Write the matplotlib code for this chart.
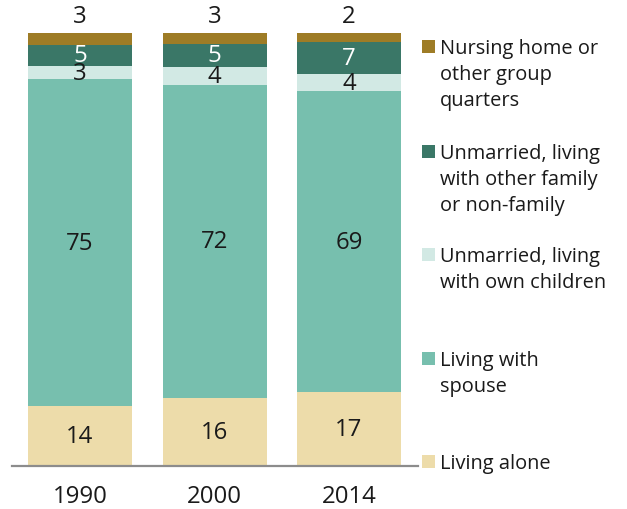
import matplotlib
matplotlib.use("Agg")
import matplotlib.pyplot as plt
from matplotlib.patches import Rectangle

plt.rcParams['font.family'] = ['Open Sans', 'DejaVu Sans']

years = ["1990", "2000", "2014"]
living_alone = [13.9, 15.6, 17.0]
with_spouse = [75.3, 72.4, 69.4]
own_children = [3.1, 4.0, 4.1]
other_family = [4.9, 5.4, 7.4]
nursing_home = [2.9, 2.9, 2.1]

series_names = ["Living alone", "Living with\nspouse",
                "Unmarried, living\nwith own children",
                "Unmarried, living\nwith other family\nor non-family",
                "Nursing home or\nother group\nquarters"]
series_vals = [living_alone, with_spouse, own_children, other_family, nursing_home]
colors = ["#EDDCAA", "#77BFAE", "#D2E9E4", "#3A7767", "#9E7C26"]
label_colors = ["#1a1a1a", "#1a1a1a", "#1a1a1a", "white", "#1a1a1a"]

W, H = 627, 510
fig = plt.figure(figsize=(W / 100, H / 100), dpi=100)
ax = fig.add_axes([12 / W, 43 / H, 406 / W, 433.5 / H])

x = list(range(len(years)))
bottoms = [0.0] * len(years)
num_fs = 17.3
for k, (vals, c) in enumerate(zip(series_vals, colors)):
    ax.bar(x, vals, bottom=bottoms, width=0.773, color=c, linewidth=0)
    for i, v in enumerate(vals):
        if k == len(series_vals) - 1:
            ax.annotate(f"{round(v)}", xy=(x[i], H - 17), xycoords=("data", "figure pixels"),
                        ha="center", va="center", fontsize=num_fs, color=label_colors[k])
        else:
            ax.text(x[i], bottoms[i] + v / 2, f"{round(v)}", ha="center", va="center",
                    fontsize=num_fs, color=label_colors[k])
    bottoms = [b + v for b, v in zip(bottoms, vals)]

ax.set_xlim(-0.506, 2.513)
ax.set_ylim(0, 100)
for s in ["top", "right", "left"]:
    ax.spines[s].set_visible(False)
ax.spines["bottom"].set_color("#8c8c8c")
ax.spines["bottom"].set_linewidth(1.6)
ax.set_yticks([])
ax.set_xticks(x)
ax.set_xticklabels(years, fontsize=num_fs, color="#1a1a1a")
ax.tick_params(axis="x", length=0, pad=13)

# legend (top to bottom)
cap_tops = [40, 145, 248, 352, 455]
leg_fs = 14.4
line_gap = 26
order = [4, 3, 2, 1, 0]
for top, k in zip(cap_tops, order):
    fig.patches.append(Rectangle((422 / W, 1 - (top + 13.5) / H), 13 / W, 13 / H,
                                 transform=fig.transFigure, color=colors[k], linewidth=0))
    for j, line in enumerate(series_names[k].split("\n")):
        fig.text(440 / W, 1 - (top + 14 + j * line_gap) / H, line, ha="left",
                 va="baseline", fontsize=leg_fs, color="#1a1a1a")

fig.savefig("out.png", dpi=100)
